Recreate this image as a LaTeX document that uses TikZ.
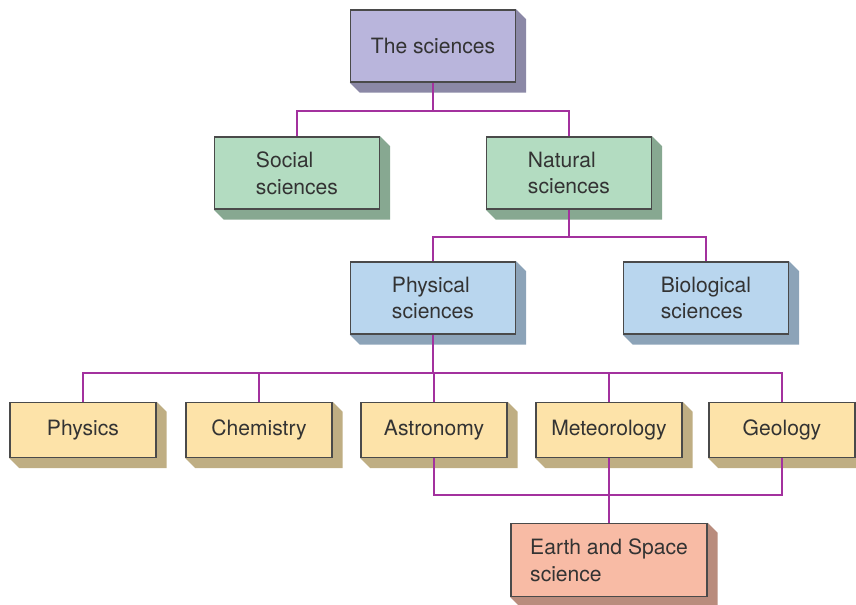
\documentclass[tikz,border=0pt]{standalone}
\usepackage{fontspec}
\setmainfont{TeX Gyre Heros}
\usetikzlibrary{positioning, calc, backgrounds}

\definecolor{linkpurple}{HTML}{A3319E}
\definecolor{boxline}{HTML}{4A4A4A}
\definecolor{txtgray}{HTML}{333333}
\definecolor{topfill}{HTML}{B9B5DC}
\definecolor{topshade}{HTML}{8B88A6}
\definecolor{greenfill}{HTML}{B3DCC1}
\definecolor{greenshade}{HTML}{87A891}
\definecolor{bluefill}{HTML}{B9D6EE}
\definecolor{blueshade}{HTML}{8CA3B8}
\definecolor{yellowfill}{HTML}{FDE3A9}
\definecolor{yellowshade}{HTML}{BFAE83}
\definecolor{salmonfill}{HTML}{F8BBA5}
\definecolor{salmonshade}{HTML}{B98C7D}

\tikzset{
    % --- Category box ---
    topic/.style = {
        rectangle, draw=boxline, line width=0.8pt,
        minimum width=3.3cm, minimum height=1.44cm,
        font=\fontsize{12}{15.3}\selectfont, text=txtgray,
        align=left, inner sep=2pt
    },
    % --- Small box for the single disciplines ---
    field/.style = {
        topic, minimum width=2.92cm, minimum height=1.1cm
    },
    % --- Connector ---
    link/.style = {
        draw=linkpurple, line width=1.1pt
    }
}

% extruded shadow at the lower right of a box
\newcommand{\extrude}[2]{%
    \fill[#2] (#1.north east) -- ++(0.2cm,-0.2cm)
        -- ([shift={(0.2cm,-0.2cm)}]#1.south east)
        -- ([shift={(0.2cm,-0.2cm)}]#1.south west)
        -- (#1.south west) -- (#1.south east) -- cycle;}

\begin{document}
\begin{tikzpicture}[x=0.02cm, y=-0.02cm]

\useasboundingbox (0,0) rectangle (856,605);

% ---------------------------------------------------------
% Boxes
% ---------------------------------------------------------
\node[topic, fill=topfill] (Sci) at (433,46) {The sciences};

\node[topic, fill=greenfill] (Soc) at (297,173) {Social\\sciences};
\node[topic, fill=greenfill] (Nat) at (569,173) {Natural\\sciences};

\node[topic, fill=bluefill] (Phy) at (433,298) {Physical\\sciences};
\node[topic, fill=bluefill] (Bio) at (706,298) {Biological\\sciences};

\node[field, fill=yellowfill] (Physics) at (83,430) {Physics};
\node[field, fill=yellowfill] (Chem) at (259,430) {Chemistry};
\node[field, fill=yellowfill] (Astro) at (434,430) {Astronomy};
\node[field, fill=yellowfill] (Meteo) at (609,430) {Meteorology};
\node[field, fill=yellowfill] (Geo) at (782,430) {Geology};

\node[topic, fill=salmonfill, minimum width=3.92cm, minimum height=1.46cm] (Earth) at (609,560) {Earth and Space\\science};

% ---------------------------------------------------------
% Shadows
% ---------------------------------------------------------
\begin{scope}[on background layer]
    \extrude{Sci}{topshade}
    \extrude{Soc}{greenshade}
    \extrude{Nat}{greenshade}
    \extrude{Phy}{blueshade}
    \extrude{Bio}{blueshade}
    \foreach \n in {Physics, Chem, Astro, Meteo, Geo}
        {\extrude{\n}{yellowshade}}
    \extrude{Earth}{salmonshade}
\end{scope}

% ---------------------------------------------------------
% Connectors
% ---------------------------------------------------------
\draw[link] (Sci.south) -- ++(0,28) coordinate (topBar);
\draw[link] (topBar) -| (Soc.north);
\draw[link] (topBar) -| (Nat.north);

\draw[link] (Nat.south) -- ++(0,27) coordinate (natBar);
\draw[link] (natBar) -| (Phy.north);
\draw[link] (natBar) -| (Bio.north);

\draw[link] (Phy.south) -- ++(0,38) coordinate (phyBar);
\foreach \n in {Physics, Chem, Astro, Meteo, Geo}
    \draw[link] (phyBar) -| (\n.north);

\draw[link] (Astro.south) -- ++(0,37) -| (Geo.south);
\draw[link] (Meteo.south) -- (Earth.north);

\end{tikzpicture}
\end{document}
